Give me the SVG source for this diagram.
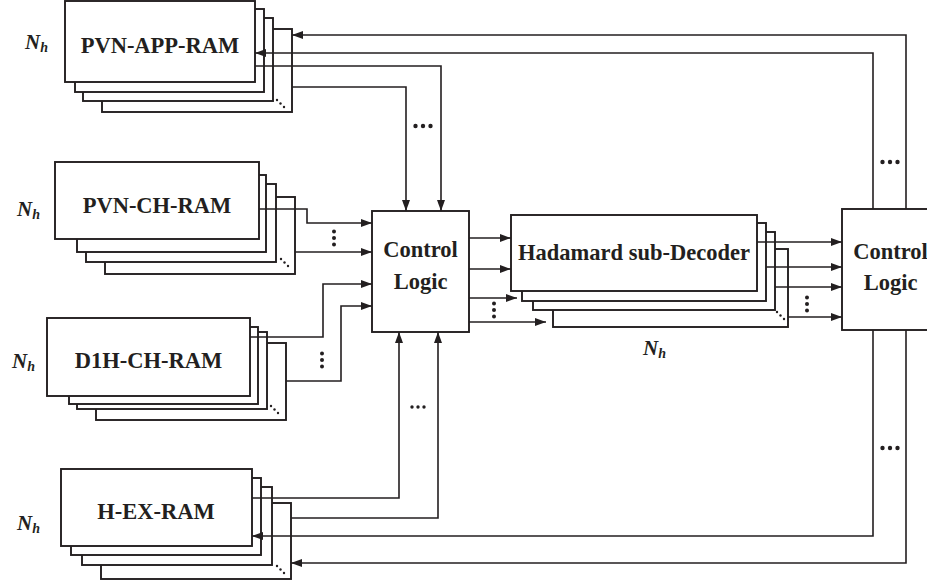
<svg xmlns="http://www.w3.org/2000/svg" width="927" height="588" viewBox="0 0 927 588">
<style>
.box{fill:#fff;stroke:#231f20;stroke-width:1.9}
.ln{fill:none;stroke:#231f20;stroke-width:1.6}
.arr{marker-end:url(#ah)}
.lbl{font-family:"Liberation Serif","Times New Roman",serif;font-weight:bold;font-size:22.5px;fill:#231f20;text-anchor:middle}
.nh{font-family:"Liberation Serif","Times New Roman",serif;font-weight:bold;font-style:italic;font-size:21px;fill:#231f20}
.nhs{font-size:14px}
.dot{fill:#231f20}
</style>
<defs>
<marker id="ah" markerUnits="userSpaceOnUse" markerWidth="11" markerHeight="8" refX="11" refY="4" orient="auto">
<path d="M0,0 L11,4 L0,8 z" fill="#231f20"/>
</marker>
<g id="ddots"><circle cx="0" cy="0" r="1.2"/><circle cx="3.5" cy="3.5" r="1.2"/><circle cx="7" cy="7" r="1.2"/></g>
<g id="hdots"><circle cx="-7.5" cy="0" r="2.2"/><circle cx="0" cy="0" r="2.2"/><circle cx="7.5" cy="0" r="2.2"/></g>
<g id="hdots2"><circle cx="-6" cy="0" r="1.7"/><circle cx="0" cy="0" r="1.7"/><circle cx="6" cy="0" r="1.7"/></g>
<g id="vdots"><circle cx="0" cy="-6.5" r="2"/><circle cx="0" cy="0" r="2"/><circle cx="0" cy="6.5" r="2"/></g>
</defs>

<g id="pvn-app-ram">
<rect class="box" x="102" y="29" width="190" height="83"/>
<rect class="box" x="83" y="18" width="190" height="83"/>
<rect class="box" x="75" y="9" width="189" height="83"/>
<rect class="box" x="65" y="1" width="190" height="81"/>
<text class="lbl" x="160" y="53">PVN-APP-RAM</text>
<use href="#ddots" class="dot" x="277" y="100"/>
<text class="nh" x="25" y="49">N<tspan class="nhs" dy="3">h</tspan></text>
</g>

<g id="pvn-ch-ram">
<rect class="box" x="105" y="197" width="190" height="77"/>
<rect class="box" x="86" y="184" width="190" height="78"/>
<rect class="box" x="77" y="175" width="189" height="77"/>
<rect class="box" x="55" y="162" width="204" height="77"/>
<text class="lbl" x="157" y="213">PVN-CH-RAM</text>
<use href="#ddots" class="dot" x="281" y="259"/>
<text class="nh" x="17" y="216">N<tspan class="nhs" dy="3">h</tspan></text>
</g>

<g id="d1h-ch-ram">
<rect class="box" x="96" y="343" width="190" height="77"/>
<rect class="box" x="77" y="332" width="190" height="77"/>
<rect class="box" x="69" y="327" width="189" height="77"/>
<rect class="box" x="47" y="318" width="203" height="78"/>
<text class="lbl" x="148.5" y="368">D1H-CH-RAM</text>
<use href="#ddots" class="dot" x="271" y="406"/>
<text class="nh" x="12" y="368">N<tspan class="nhs" dy="3">h</tspan></text>
</g>

<g id="h-ex-ram">
<rect class="box" x="101" y="503" width="190" height="76"/>
<rect class="box" x="82" y="487" width="190" height="78"/>
<rect class="box" x="71" y="478" width="190" height="77"/>
<rect class="box" x="61" y="469" width="191" height="77"/>
<text class="lbl" x="156" y="519">H-EX-RAM</text>
<use href="#ddots" class="dot" x="277" y="566"/>
<text class="nh" x="17" y="530">N<tspan class="nhs" dy="3">h</tspan></text>
</g>

<g id="control-logic-1">
<rect class="box" x="372" y="211" width="97" height="121"/>
<text class="lbl" x="420.5" y="257">Control</text>
<text class="lbl" x="420.5" y="289">Logic</text>
</g>

<g id="hadamard-sub-decoder">
<rect class="box" x="553" y="249" width="235" height="78"/>
<rect class="box" x="533" y="232" width="242" height="78"/>
<rect class="box" x="522" y="223" width="244" height="78"/>
<rect class="box" x="511" y="215" width="246" height="76"/>
<text class="lbl" x="634" y="260">Hadamard sub-Decoder</text>
<use href="#ddots" class="dot" x="777" y="312"/>
<text class="nh" x="643" y="355">N<tspan class="nhs" dy="3">h</tspan></text>
</g>

<g id="control-logic-2">
<rect class="box" x="842" y="209" width="97" height="121"/>
<text class="lbl" x="890.5" y="259">Control</text>
<text class="lbl" x="890.5" y="290">Logic</text>
</g>

<g id="connectors">
<path class="ln arr" d="M255 66 H441 V211"/>
<path class="ln arr" d="M292 87 H406 V211"/>
<path class="ln arr" d="M906 209 V35 H292"/>
<path class="ln arr" d="M873 209 V53 H255"/>
<path class="ln arr" d="M259 209 H307 V223 H372"/>
<path class="ln arr" d="M295 252 H372"/>
<path class="ln arr" d="M250 337 H323 V284 H372"/>
<path class="ln arr" d="M286 381 H341 V306 H372"/>
<path class="ln arr" d="M252 498 H399 V332"/>
<path class="ln arr" d="M291 518 H438 V332"/>
<path class="ln arr" d="M873 330 V536 H252"/>
<path class="ln arr" d="M906 330 V563 H291"/>
<path class="ln arr" d="M469 238 H511"/>
<path class="ln arr" d="M469 269 H511"/>
<path class="ln arr" d="M469 298 H517"/>
<path class="ln arr" d="M469 322 H546"/>
<path class="ln arr" d="M757 242 H842"/>
<path class="ln arr" d="M766 267 H842"/>
<path class="ln arr" d="M775 287 H842"/>
<path class="ln arr" d="M788 317 H842"/>
<use href="#hdots" class="dot" x="423" y="126"/>
<use href="#hdots" class="dot" x="890" y="162"/>
<use href="#hdots" class="dot" x="890" y="448"/>
<use href="#hdots2" class="dot" x="418" y="407"/>
<use href="#vdots" class="dot" x="334" y="238"/>
<use href="#vdots" class="dot" x="322" y="360"/>
<use href="#vdots" class="dot" x="494" y="310"/>
<use href="#vdots" class="dot" x="807" y="304"/>
</g>
</svg>
